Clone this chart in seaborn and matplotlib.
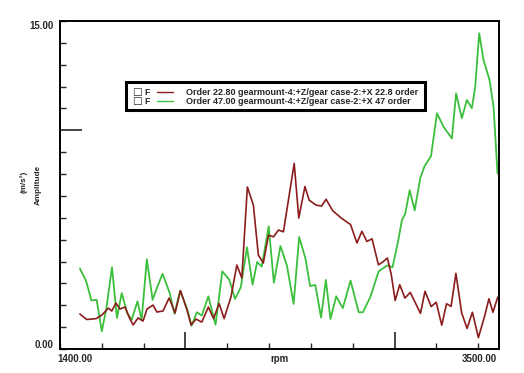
import numpy as np
import pandas as pd
import matplotlib
matplotlib.use("Agg")
import matplotlib.pyplot as plt
from matplotlib.lines import Line2D
from matplotlib.patches import Rectangle
import seaborn as sns

# order 22.8 (red)
rpm_22 = [1500, 1534, 1581, 1610, 1643, 1660, 1681, 1701, 1727, 1747, 1767, 1792,
          1817, 1837, 1867, 1887, 1917, 1948, 1978, 2005, 2038, 2058, 2083, 2112,
          2145, 2171, 2199, 2224, 2259, 2288, 2313, 2341, 2371, 2396, 2421, 2447,
          2472, 2497, 2522, 2547, 2576, 2599, 2630, 2651, 2686, 2714, 2736, 2769,
          2812, 2859, 2891, 2916, 2941, 2967, 2999, 3021, 3044, 3063, 3083, 3106,
          3132, 3159, 3210, 3233, 3264, 3289, 3317, 3341, 3364, 3388, 3417, 3444,
          3471, 3501, 3532, 3554, 3574, 3598]
amp_22 = [1.60, 1.35, 1.39, 1.55, 1.87, 1.74, 2.10, 1.83, 1.92, 1.46, 1.10, 1.42,
          1.28, 1.83, 2.01, 1.69, 1.74, 2.33, 1.65, 2.67, 1.78, 1.10, 1.37, 1.23,
          1.92, 1.39, 2.08, 1.39, 2.40, 3.84, 3.25, 7.41, 6.58, 4.30, 3.93, 5.21,
          5.13, 5.44, 5.36, 6.81, 8.49, 5.99, 7.43, 6.81, 6.58, 6.54, 6.85, 6.33,
          5.99, 5.69, 4.85, 5.38, 4.92, 5.04, 3.85, 3.98, 4.16, 3.43, 2.22, 2.94,
          2.33, 2.59, 1.63, 2.64, 1.94, 2.14, 1.09, 2.07, 1.95, 3.46, 1.65, 0.94,
          1.68, 0.52, 1.50, 2.30, 1.68, 2.37]

# order 47 (green)
rpm_47 = [1500, 1531, 1558, 1584, 1610, 1633, 1661, 1686, 1710, 1737, 1760, 1789,
          1810, 1836, 1865, 1889, 1915, 1951, 1975, 2003, 2037, 2061, 2087, 2112,
          2145, 2181, 2215, 2250, 2279, 2308, 2339, 2367, 2390, 2413, 2448, 2474,
          2507, 2540, 2573, 2601, 2632, 2656, 2682, 2711, 2735, 2758, 2787, 2820,
          2859, 2900, 2921, 2958, 3000, 3042, 3070, 3098, 3117, 3133, 3156, 3181,
          3209, 3231, 3263, 3293, 3326, 3368, 3389, 3418, 3443, 3468, 3485, 3505,
          3527, 3557, 3577, 3597]
amp_47 = [3.68, 3.11, 2.22, 2.25, 0.81, 1.87, 3.74, 1.42, 2.56, 1.65, 1.34, 2.18,
          1.34, 4.10, 2.25, 2.85, 3.44, 2.56, 1.61, 2.67, 1.87, 1.07, 1.68, 1.53,
          2.41, 1.11, 3.55, 3.17, 2.29, 2.83, 4.65, 2.94, 3.98, 3.77, 5.61, 3.03,
          4.71, 3.80, 2.06, 5.12, 4.16, 2.88, 2.93, 1.44, 3.16, 1.37, 2.41, 1.87,
          3.13, 1.68, 1.68, 2.37, 3.55, 3.82, 3.74, 4.94, 5.90, 6.17, 7.26, 6.34,
          7.82, 8.37, 8.82, 10.78, 10.16, 9.63, 11.69, 10.55, 11.39, 11.01, 11.99, 14.44,
          13.21, 12.30, 11.08, 8.03]

labels = ["Order 22.80 gearmount-4:+Z/gear case-2:+X 22.8 order",
          "Order 47.00 gearmount-4:+Z/gear case-2:+X 47 order"]
colors = ["#8b1c1c", "#3cbf3c"]

x_min, x_max = 1400, 3605
y_min, y_max = 0, 15


def main():
    sns.set_style("white")
    plt.rcParams["font.family"] = ["Liberation Sans", "DejaVu Sans"]

    fig = plt.figure(figsize=(5.24, 3.73), dpi=100)
    ax = fig.add_axes([0.1145, 0.0643, 0.838, 0.8794])

    df22 = pd.DataFrame({"rpm": rpm_22, "amp": amp_22})
    df47 = pd.DataFrame({"rpm": rpm_47, "amp": amp_47})
    sns.lineplot(data=df47, x="rpm", y="amp", color=colors[1], lw=1.3,
                 estimator=None, sort=False, ax=ax)
    sns.lineplot(data=df22, x="rpm", y="amp", color=colors[0], lw=1.2,
                 estimator=None, sort=False, ax=ax)

    ax.set_xlim(x_min, x_max)
    ax.set_ylim(y_min, y_max)
    ax.set_xlabel("")
    ax.set_ylabel("")

    for s in ax.spines.values():
        s.set_color("black")
        s.set_linewidth(1.4)

    # long ticks as major, short ones as minor; all inward, no labels
    ax.set_xticks([2030, 3080])
    ax.set_yticks([10])
    ax.set_xticks([v for v in np.arange(1400, 3600, 210) if v not in (2030, 3080)],
                  minor=True)
    ax.set_yticks([v for v in range(0, 16) if v != 10], minor=True)
    ax.tick_params(which="minor", direction="in", length=4, width=1,
                   bottom=True, left=True)
    ax.tick_params(axis="x", which="major", direction="in", length=12, width=1.2,
                   labelbottom=False, bottom=True)
    ax.tick_params(axis="y", which="major", direction="in", length=16, width=1.2,
                   labelleft=False, left=True)

    fs = 7
    ax.text(-0.015, 0.985, "15.00", transform=ax.transAxes, ha="right",
            va="center", fontsize=fs, fontweight="bold")
    ax.text(-0.015, 0.012, "0.00", transform=ax.transAxes, ha="right",
            va="center", fontsize=fs, fontweight="bold")
    ax.text(-0.005, -0.03, "1400.00", transform=ax.transAxes, ha="left",
            va="center", fontsize=fs, fontweight="bold")
    ax.text(0.50, -0.03, "rpm", transform=ax.transAxes, ha="center",
            va="center", fontsize=fs, fontweight="bold")
    ax.text(0.954, -0.03, "3500.00", transform=ax.transAxes, ha="center",
            va="center", fontsize=fs, fontweight="bold")
    ax.text(-0.05, 0.50, "Amplitude", transform=ax.transAxes, ha="center",
            va="center", rotation=90, fontsize=5.9, fontweight="bold")
    ax.text(-0.083, 0.51, "(m/s\u00b2)", transform=ax.transAxes, ha="center",
            va="center", rotation=90, fontsize=5.9, fontweight="bold")

    # legend box drawn by hand
    lx0, lx1 = (126 - 60) / 439, (425 - 60) / 439
    ly0, ly1 = (349 - 110) / 328, (349 - 82) / 328
    ax.add_patch(Rectangle((lx0, ly0), lx1 - lx0, ly1 - ly0, transform=ax.transAxes,
                           facecolor="white", edgecolor="black", lw=2.2, zorder=5))
    for i, (lab, c) in enumerate(zip(labels, colors)):
        py = (349 - (92 + 9 * i)) / 328
        ax.text((137 - 60) / 439, py, "\u25a1", transform=ax.transAxes, ha="center",
                va="center", fontsize=7.5, fontweight="bold", zorder=6,
                family=["DejaVu Sans"])
        ax.text((144 - 60) / 439, py, "F", transform=ax.transAxes, ha="left",
                va="center", fontsize=6.3, fontweight="bold", zorder=6)
        ax.add_line(Line2D([(157 - 60) / 439, (173 - 60) / 439], [py, py],
                           transform=ax.transAxes, color=c, lw=1, zorder=6))
        ax.text((186 - 60) / 439, py, lab, transform=ax.transAxes, ha="left",
                va="center", fontsize=6.5, fontweight="bold", zorder=6)

    fig.savefig("out.png", dpi=100)


if __name__ == "__main__":
    main()
